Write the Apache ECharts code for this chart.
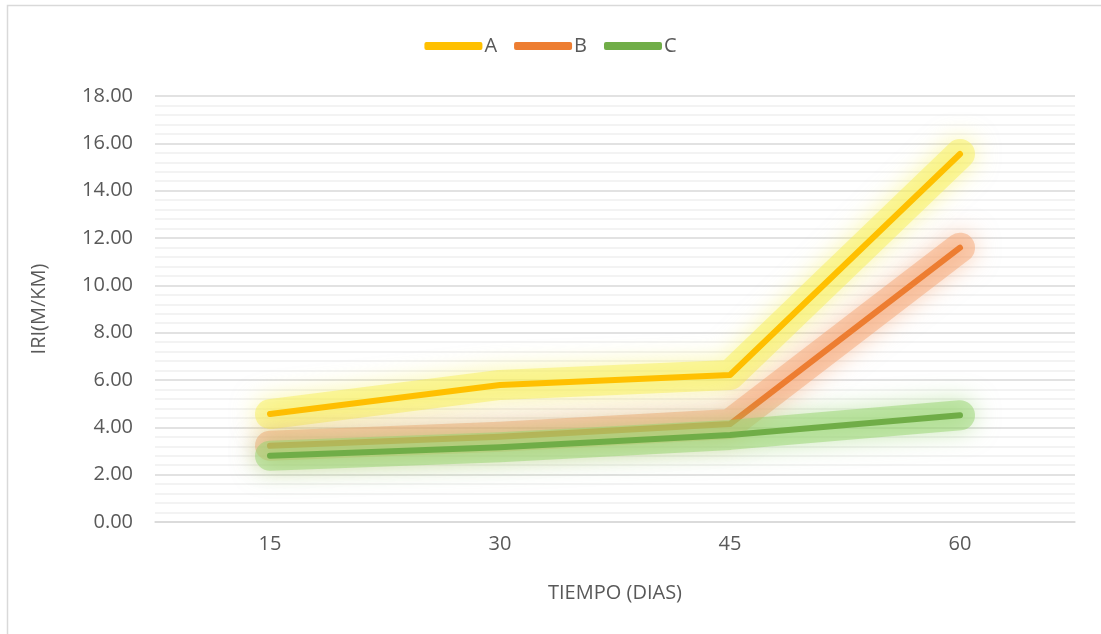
<!DOCTYPE html>
<html>
<head>
<meta charset="utf-8">
<script src="https://cdn.jsdelivr.net/npm/echarts@6/dist/echarts.min.js"></script>
<style>
html,body{margin:0;padding:0;background:#fff;}
#chart{width:1101px;height:634px;}
</style>
</head>
<body>
<div id="chart"></div>
<script>
var categories = ['15', '30', '45', '60'];
var seriesA = [4.56, 5.79, 6.21, 15.55];
var seriesB = [3.22, 3.60, 4.14, 11.59];
var seriesC = [2.80, 3.16, 3.68, 4.51];
var seriesNames = ['A', 'B', 'C'];
var yTicks = { min: 0, max: 18, interval: 2 };
var xTitle = 'TIEMPO (DIAS)';
var yTitle = 'IRI(M/KM)';

var font = '"Open Sans", "Liberation Sans", sans-serif';
var textColor = '#595959';

function glowSeries(name, data, rgb, width, alpha, blur) {
  var c = 'rgba(' + rgb + ',' + alpha + ')';
  return {
    name: name + ' glow ' + width,
    type: 'line',
    data: data,
    showSymbol: false,
    symbol: 'none',
    silent: true,
    legendHoverLink: false,
    lineStyle: {
      width: width,
      color: c,
      cap: 'round',
      join: 'round',
      shadowColor: 'rgba(' + rgb + ',1)',
      shadowBlur: blur
    },
    tooltip: { show: false },
    emphasis: { disabled: true }
  };
}

function lineSeries(name, data, color) {
  return {
    name: name,
    type: 'line',
    data: data,
    showSymbol: false,
    symbol: 'none',
    color: color,
    lineStyle: {
      width: 6,
      color: color,
      cap: 'round',
      join: 'round'
    },
    emphasis: { disabled: true }
  };
}

function glowing(name, data, color, rgb) {
  return [
    glowSeries(name, data, rgb, 30, 0.5, 24),
    lineSeries(name, data, color)
  ];
}

var chart = echarts.init(document.getElementById('chart'), null, { renderer: 'canvas' });
chart.setOption({
  animation: false,
  backgroundColor: '#ffffff',
  graphic: [{
    type: 'rect',
    shape: { x: 7.5, y: 5.5, width: 1110, height: 700 },
    style: { fill: 'none', stroke: '#d9d9d9', lineWidth: 1.5 },
    silent: true,
    z: -1
  }],
  legend: {
    top: 31,
    left: 'center',
    itemWidth: 58,
    itemHeight: 8,
    itemGap: 17,
    icon: 'roundRect',
    textStyle: { fontFamily: font, fontSize: 20, color: textColor, padding: [0, 0, 0, -3] },
    data: seriesNames
  },
  grid: { left: 155, right: 26, top: 96, bottom: 112, containLabel: false },
  xAxis: {
    type: 'category',
    data: categories,
    boundaryGap: true,
    name: xTitle,
    nameLocation: 'middle',
    nameGap: 61,
    nameTextStyle: { fontFamily: font, fontSize: 20, color: textColor },
    axisLine: { show: true, lineStyle: { color: '#d9d9d9', width: 1.5 } },
    axisTick: { show: false },
    axisLabel: { fontFamily: font, fontSize: 20, color: textColor, margin: 12 },
    splitLine: { show: false }
  },
  yAxis: {
    type: 'value',
    min: yTicks.min,
    max: yTicks.max,
    interval: yTicks.interval,
    name: yTitle,
    nameLocation: 'middle',
    nameGap: 106,
    nameRotate: 90,
    nameTextStyle: { fontFamily: font, fontSize: 20, color: textColor },
    axisLine: { show: false },
    axisTick: { show: false },
    axisLabel: {
      fontFamily: font, fontSize: 20, color: textColor, margin: 22,
      formatter: function (v) { return v.toFixed(2); }
    },
    splitLine: { show: true, lineStyle: { color: '#d9d9d9', width: 1.5 } },
    minorTick: { show: false, splitNumber: 5 },
    minorSplitLine: { show: true, lineStyle: { color: '#efefef', width: 1.5 } }
  },
  series: [].concat(
    glowing(seriesNames[0], seriesA, '#ffc000', '248,240,90'),
    glowing(seriesNames[1], seriesB, '#ed7d31', '245,165,115'),
    glowing(seriesNames[2], seriesC, '#70ad47', '150,212,110')
  )
});
</script>
</body>
</html>
